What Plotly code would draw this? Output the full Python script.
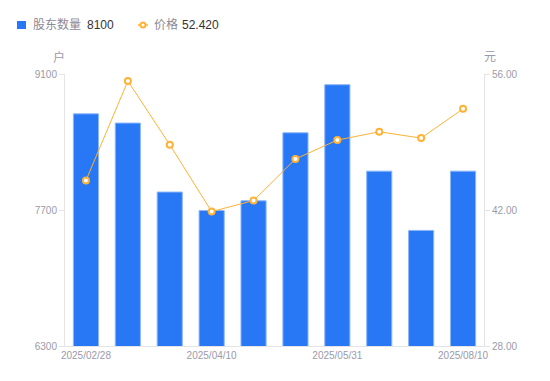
import plotly.graph_objects as go

dates = ["2025/02/28", "2025/03/10", "2025/03/31", "2025/04/10", "2025/04/30",
         "2025/05/20", "2025/05/31", "2025/06/30", "2025/07/20", "2025/08/10"]
holders = [8690, 8595, 7885, 7695, 7795, 8495, 8990, 8100, 7490, 8100]
prices = [45.03, 55.28, 48.72, 41.84, 42.97, 47.25, 49.20, 50.05, 49.40, 52.42]
x_ticks = ["2025/02/28", "2025/04/10", "2025/05/31", "2025/08/10"]
left_ticks = [6300, 7700, 9100]
right_ticks = [28, 42, 56]
legend_names = ["股东数量", "价格"]
legend_values = ["8100", "52.420"]

FONT = "Liberation Sans, Arial, Noto Sans CJK SC"
GRAY = "#9a9aaa"
BLUE = "#2878f5"
ORANGE = "#ffb236"

W, H = 550, 381
L, R, T, B = 65, 66, 74, 35
PW, PH = W - L - R, H - T - B


def px(x):
    return (x - L) / PW


def py(y):
    return (H - B - y) / PH


fig = go.Figure()
fig.add_trace(go.Bar(
    x=dates, y=holders, yaxis="y", name=legend_names[0],
    marker=dict(color=BLUE, line=dict(color="#8db7f7", width=1)),
))
fig.add_trace(go.Scatter(
    x=dates, y=prices, yaxis="y2", mode="lines+markers", name=legend_names[1],
    line=dict(color=ORANGE, width=1),
    marker=dict(symbol="circle", size=6, color="white",
                line=dict(color=ORANGE, width=2)),
))

shapes = [
    dict(type="rect", xref="paper", yref="paper", x0=px(17), x1=px(26),
         y0=py(29), y1=py(21), fillcolor=BLUE, line=dict(width=0)),
    dict(type="line", xref="paper", yref="paper", x0=px(138), x1=px(148),
         y0=py(25), y1=py(25), line=dict(color=ORANGE, width=1.5)),
    dict(type="circle", xref="paper", yref="paper", x0=px(140.5), x1=px(145.5),
         y0=py(27.5), y1=py(22.5), fillcolor="white", line=dict(color=ORANGE, width=2)),
]

annotations = [
    dict(text=legend_names[0], x=px(31), y=py(25), xanchor="left", yanchor="middle",
         font=dict(size=12, color="#8a8a98")),
    dict(text=legend_values[0], x=px(85), y=py(25), xanchor="left", yanchor="middle",
         font=dict(size=12, color="#333333")),
    dict(text=legend_names[1], x=px(152), y=py(25), xanchor="left", yanchor="middle",
         font=dict(size=12, color="#8a8a98")),
    dict(text=legend_values[1], x=px(180), y=py(25), xanchor="left", yanchor="middle",
         font=dict(size=12, color="#333333")),
    dict(text="户", x=px(59), y=py(57), xanchor="center", yanchor="middle",
         font=dict(size=12, color=GRAY)),
    dict(text="元", x=px(490), y=py(57), xanchor="center", yanchor="middle",
         font=dict(size=12, color=GRAY)),
]
for a in annotations:
    a.update(xref="paper", yref="paper", showarrow=False)

fig.update_layout(
    width=W, height=H,
    margin=dict(l=L, r=R, t=T, b=B, autoexpand=False),
    paper_bgcolor="white", plot_bgcolor="white",
    font=dict(family=FONT, size=10, color=GRAY),
    bargap=0.4,
    showlegend=False,
    xaxis=dict(type="category", range=[-0.5, len(dates) - 0.5],
               tickmode="array", tickvals=x_ticks, ticktext=x_ticks,
               showline=True, linecolor="#e3e3e8", linewidth=1, ticks="",
               showgrid=False, tickfont=dict(size=10, color=GRAY)),
    yaxis=dict(range=[6300, 9100], tickmode="array", tickvals=left_ticks,
               showgrid=False, showline=True, linecolor="#e3e3e8", linewidth=1,
               ticks="outside", ticklen=5, tickcolor="#e3e3e8",
               tickfont=dict(size=10, color=GRAY), zeroline=False),
    yaxis2=dict(range=[28, 56], overlaying="y", side="right", tickmode="array",
                tickvals=right_ticks, tickformat=".2f",
                showgrid=False, showline=True, linecolor="#e3e3e8", linewidth=1,
                ticks="outside", ticklen=5, tickcolor="#e3e3e8",
                tickfont=dict(size=10, color=GRAY), zeroline=False),
    shapes=shapes,
    annotations=annotations,
)

fig.write_html(
    "out.html",
    config={"displayModeBar": False},
    post_script="document.body.style.margin='0';document.body.style.padding='0';",
)
